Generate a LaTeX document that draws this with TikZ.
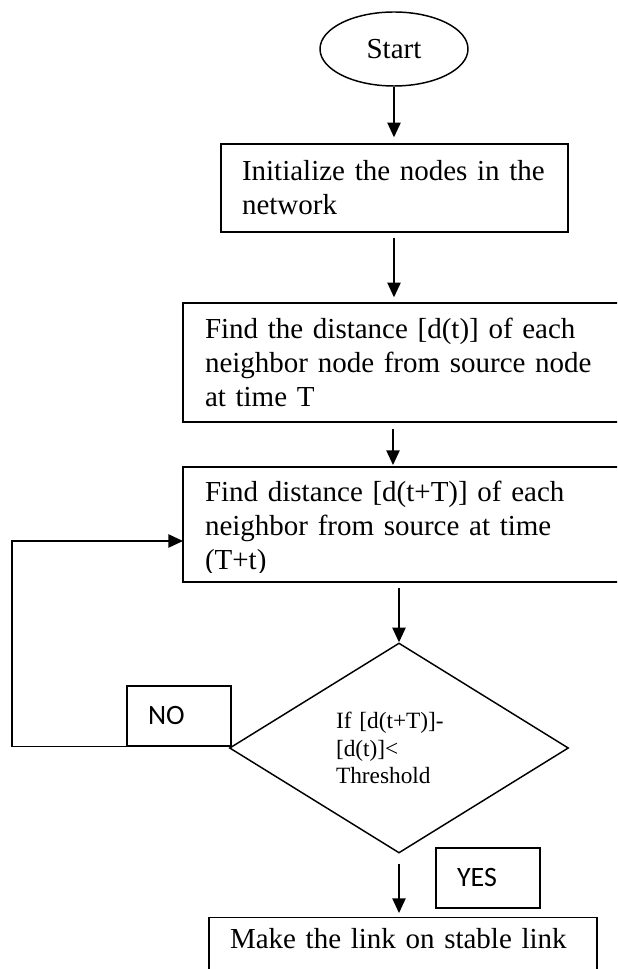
\documentclass[tikz,border=0pt]{standalone}
\usepackage{fontspec}
\setmainfont{Liberation Serif}
\newfontfamily\calfont{Carlito}
\usetikzlibrary{shapes.geometric,arrows.meta}

\tikzset{every picture/.style={line width=1.1pt}}
\tikzset{
	flowarrow/.style={-{Triangle[length=11pt,width=10pt]}},
	procbox/.style={rectangle, draw, align=left, inner ysep=0pt,
		font=\fontsize{21.75pt}{25.5pt}\selectfont},
	tagbox/.style={rectangle, draw, align=left, inner xsep=15.75pt, inner ysep=0pt,
		text width=46.5pt, minimum width=78pt, minimum height=45pt,
		font=\calfont\fontsize{21pt}{25pt}\selectfont}
}

\begin{document}
\begin{tikzpicture}[x=0.75pt,y=0.75pt,yscale=-1,xscale=1]
	\useasboundingbox (0,0) rectangle (617,969);
	\clip (0,0) rectangle (617,969);

	%Shape: Ellipse
	\node [ellipse, draw, inner sep=0pt, minimum width=111pt, minimum height=55.5pt,
		font=\fontsize{21.75pt}{25.5pt}\selectfont] (start) at (394,49) {Start};
	%Shape: Rectangle
	\node [procbox, inner xsep=15.75pt, text width=228.75pt, minimum height=66pt] (init) at (394.5,188)
		{Initialize the nodes in the\\network};
	%Shape: Rectangle
	\node [procbox, inner xsep=16.5pt, text width=309.75pt, minimum height=89.25pt] (find) at (411.5,362.5)
		{Find the distance [d(t)] of each\\neighbor node from source node\\at time T};
	%Shape: Rectangle (text cut at the bottom)
	\begin{scope}
		\clip (183,467) rectangle (640,572);
		\node [procbox, draw=none, inner xsep=16.5pt, text width=309.75pt, minimum height=86.25pt] (find2) at (411.5,528)
			{Find distance [d(t+T)] of each\\neighbor from source at time\\(T+t)};
	\end{scope}
	\draw (183,467) rectangle (640,582);
	%Shape: Diamond
	\node [diamond, draw, inner sep=0pt, minimum width=254.25pt, minimum height=157.5pt,
		text width=94.5pt, align=left, font=\fontsize{17.5pt}{20.5pt}\selectfont] (check) at (399,748)
		{If [d(t+T)]-\\{[d(t)]<}\\Threshold};
	%Shape: Rectangle
	\node [tagbox] (no) at (179,716) {NO};
	%Shape: Rectangle
	\node [tagbox] (yes) at (488,878) {YES};
	%Shape: Rectangle (runs off the page)
	\node [procbox, anchor=north, inner xsep=15.75pt, inner ysep=8pt, text width=259.5pt,
		text height=15pt, text depth=45pt] (final) at (403,917)
		{Make the link on stable link};

	\coordinate (back) at (12,541);

	% Arrows
	\draw [flowarrow, shorten >=4.5pt] (start.south) -- (init.north -| start.south);
	\draw [flowarrow, shorten <=3.75pt, shorten >=3.75pt] (init.south -| start.south) -- (find.north -| start.south);
	\draw [flowarrow, shorten <=5pt, shorten >=1.5pt] (find.south -| 393,0) -- (183,467 -| 393,0);
	\draw [flowarrow, shorten <=4.5pt] (640,582 -| check.north) -- (check.north);
	\draw [flowarrow, shorten <=7.5pt, shorten >=3pt] (check.south) -- (final.north -| check.south);
	% Loop back
	\draw [flowarrow] (no.south west) -- (no.south west -| back) -- (back) -- (back -| 183,0);

\end{tikzpicture}
\end{document}
